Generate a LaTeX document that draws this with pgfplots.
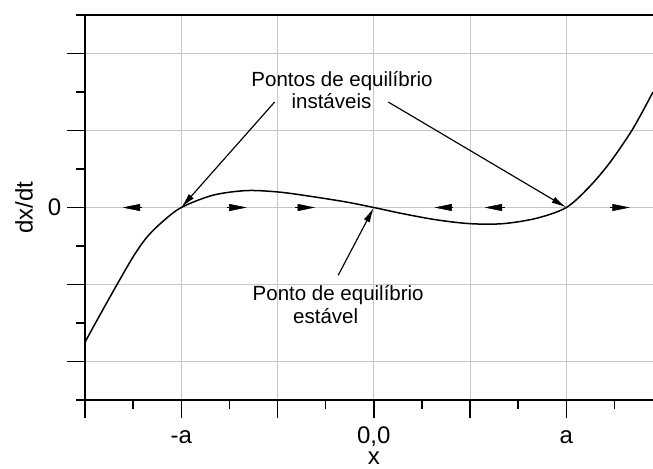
\documentclass[border=0pt]{standalone}
\usepackage{pgfplots}
\pgfplotsset{compat=1.18}
\usepackage{fontspec}
\setmainfont{Liberation Sans}
\usetikzlibrary{arrows.meta}
\begin{document}
\begin{tikzpicture}
\begin{axis}[
  name=ax,
  scale only axis,
  width=340.8pt, height=231pt,
  xmin=-3, xmax=2.9, ymin=-2.5, ymax=2.5,
  axis x line*=box, axis y line*=left,
  xtick pos=left, ytick pos=left,
  tick align=outside,
  xtick={-3,-2,-1,0,1,2},
  xticklabels={{},{-a},{},{0,0},{},{a}},
  ytick={-2,-1,0,1,2},
  yticklabels={{},{},{0},{},{}},
  minor xtick={-2.5,-1.5,-0.5,0.5,1.5,2.5},
  minor ytick={-2.5,-1.5,-0.5,0.5,1.5,2.5},
  major tick length=10.8pt, minor tick length=5.4pt,
  every tick/.style={black, line width=0.9pt},
  axis line style={line width=0.9pt},
  grid=major,
  major grid style={black!22, line width=0.6pt},
  ticklabel style={font=\fontsize{14.4pt}{16pt}\selectfont},
  xticklabel style={text height=10.5pt, text depth=3pt, yshift=-1pt},
  xlabel={x}, ylabel={dx/dt},
  label style={font=\fontsize{14.4pt}{16pt}\selectfont},
  xlabel style={at={([yshift=-31pt]axis cs:0,-2.5)}, anchor=north, inner sep=0pt},
  ylabel style={at={([xshift=-36.6pt]axis description cs:0,0.5)}, anchor=center, inner sep=0pt},
]
\addplot[black, line width=0.9pt, smooth, tension=0.5] coordinates {
(-3.0,-1.75) (-2.90,-1.52) (-2.69,-1.05) (-2.50,-0.64) (-2.36,-0.39) (-2.20,-0.19) (-2.0,0)
(-1.67,0.16) (-1.32,0.22) (-0.98,0.20) (-0.63,0.14) (-0.28,0.07) (0,0)
(0.30,-0.08) (0.65,-0.16) (1.0,-0.21) (1.34,-0.21) (1.69,-0.14) (2.0,0)
(2.24,0.27) (2.45,0.58) (2.66,0.96) (2.78,1.22) (2.9,1.50)
};
% direction arrows on the x axis
\addplot[black, line width=0.3pt, -{Triangle[length=10.5pt,width=4.2pt]}] coordinates {(-2.41,0) (-2.61,0)};
\addplot[black, line width=0.3pt, -{Triangle[length=10.5pt,width=4.2pt]}] coordinates {(-1.53,0) (-1.32,0)};
\addplot[black, line width=0.3pt, -{Triangle[length=10.5pt,width=4.2pt]}] coordinates {(-0.82,0) (-0.61,0)};
\addplot[black, line width=0.3pt, -{Triangle[length=10.5pt,width=4.2pt]}] coordinates {(0.82,0) (0.63,0)};
\addplot[black, line width=0.3pt, -{Triangle[length=10.5pt,width=4.2pt]}] coordinates {(1.36,0) (1.15,0)};
\addplot[black, line width=0.3pt, -{Triangle[length=10.5pt,width=4.2pt]}] coordinates {(2.45,0) (2.66,0)};
% annotations
\draw[black, line width=0.7pt, -{Latex[length=9pt,width=4pt]}] (axis cs:-1.03,1.37) -- (axis cs:-2,0);
\draw[black, line width=0.7pt, -{Latex[length=9pt,width=4pt]}] (axis cs:0.15,1.37) -- (axis cs:2,0);
\draw[black, line width=0.7pt, -{Latex[length=9pt,width=4pt]}] (axis cs:-0.37,-0.88) -- (axis cs:0,0);
\node[anchor=base, inner sep=0pt, font=\fontsize{12.3pt}{14pt}\selectfont] at (axis cs:-0.33,1.57) {Pontos de equilíbrio};
\node[anchor=base, inner sep=0pt, font=\fontsize{12.3pt}{14pt}\selectfont] at (axis cs:-0.44,1.29) {instáveis};
\node[anchor=base, inner sep=0pt, font=\fontsize{12.3pt}{14pt}\selectfont] at (axis cs:-0.37,-1.21) {Ponto de equilíbrio};
\node[anchor=base, inner sep=0pt, font=\fontsize{12.3pt}{14pt}\selectfont] at (axis cs:-0.50,-1.51) {estável};
\end{axis}
\pgfresetboundingbox
\path ([xshift=-51pt,yshift=-40.8pt]ax.south west) rectangle ([yshift=9pt]ax.north east);
\end{tikzpicture}
\end{document}
